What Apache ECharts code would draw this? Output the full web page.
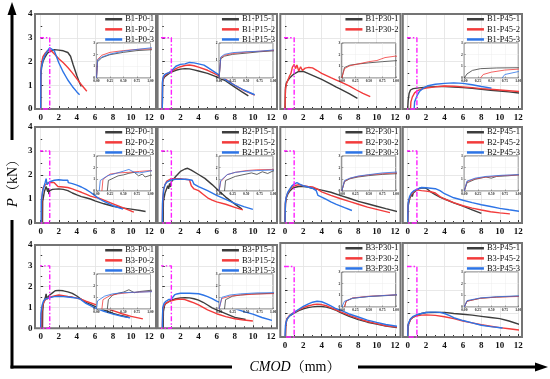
<!DOCTYPE html>
<html><head><meta charset="utf-8">
<script src="https://cdn.jsdelivr.net/npm/echarts@6/dist/echarts.min.js"></script>
<style>html,body{margin:0;padding:0;background:#fff}#c{width:550px;height:379px}</style>
</head><body><div id="c"></div>
<script>
// ---------- panel names / ticks ----------
const panelNames = ['B1-P0','B1-P15','B1-P30','B1-P45','B2-P0','B2-P15','B2-P30','B2-P45','B3-P0','B3-P15','B3-P30','B3-P45'];
const xTicks = [0, 12, 2];      // min, max, interval (mm)
const yTicks = [0, 4, 1];       // min, max, interval (kN)
const insetX = [0, 1, 0.25];
const insetYMax = [3,2,3,3, 3,3,3,3, 3,3,3,3];
const zoomBox = [[-0.45,0],[-0.45,3],[1,3],[1,0],[-0.45,0]];

// ---------- series data [CMOD mm, P kN] ----------
const B1_P0_1 = [[0,0],[0.02,1.4],[0.1,1.75],[0.25,2.0],[0.5,2.2],[0.75,2.35],[1,2.42],[1.5,2.5],[2,2.48],[2.5,2.45],[3,2.38],[3.3,2.22],[3.6,1.85],[4,1.4],[4.3,1.1],[4.5,0.95]];
const B1_P0_2 = [[0,0],[0.02,1.6],[0.1,1.95],[0.25,2.2],[0.5,2.35],[0.75,2.45],[1,2.5],[1.3,2.4],[1.6,2.28],[2,2.12],[2.5,1.95],[3,1.75],[3.5,1.52],[4,1.27],[4.5,1.02],[5.1,0.75]];
const B1_P0_3 = [[0,0],[0.02,1.55],[0.1,1.8],[0.25,2.05],[0.5,2.3],[0.75,2.45],[1,2.58],[1.2,2.62],[1.5,2.45],[2,1.95],[2.5,1.55],[3,1.22],[3.5,0.95],[4,0.72],[4.3,0.6]];

const B1_P15_1 = [[0,0],[0.03,1.1],[0.1,1.25],[0.25,1.35],[0.5,1.42],[0.75,1.5],[1,1.55],[1.5,1.63],[2,1.68],[2.5,1.7],[3,1.69],[3.5,1.65],[4,1.6],[5,1.5],[6,1.35],[7,1.18],[8,0.92],[8.8,0.72],[9.5,0.55]];
const B1_P15_2 = [[0,0],[0.03,1.15],[0.1,1.3],[0.25,1.4],[0.5,1.48],[0.75,1.53],[1,1.58],[1.5,1.7],[2,1.78],[2.5,1.83],[3,1.85],[3.5,1.82],[4,1.76],[5,1.63],[6,1.45],[7,1.25],[8,1.0],[9,0.78],[10.2,0.58]];
const B1_P15_3 = [[0,0],[0.03,1.2],[0.1,1.35],[0.25,1.45],[0.5,1.5],[0.75,1.53],[1,1.6],[1.5,1.8],[2,1.88],[2.5,1.9],[3,1.96],[3.5,1.94],[4,1.9],[4.6,1.85],[5,1.75],[6,1.5],[7,1.23],[8,1.0],[9,0.8],[10.2,0.6]];

const B1_P30_1 = [[0,0],[0.05,0.9],[0.15,1.1],[0.3,1.2],[0.5,1.3],[0.75,1.4],[1,1.48],[1.5,1.58],[2,1.58],[2.5,1.5],[3,1.42],[4,1.25],[5,1.05],[5.6,0.92],[6,0.85],[7,0.65],[7.9,0.45]];
const B1_P30_2 = [[0,0],[0.05,0.8],[0.15,1.05],[0.3,1.2],[0.5,1.4],[0.65,1.5],[0.8,1.75],[1,1.88],[1.15,1.7],[1.3,1.85],[1.5,1.6],[1.7,1.78],[1.9,1.62],[2.2,1.72],[2.6,1.75],[3,1.73],[3.5,1.62],[4,1.5],[5,1.32],[5.6,1.22],[6,1.15],[7,0.97],[7.8,0.8],[8.5,0.66],[9.3,0.52]];

const B1_P45_1 = [[0,0],[0.05,0.35],[0.15,0.65],[0.3,0.8],[0.6,0.86],[1,0.88],[2,0.92],[3,0.94],[4,0.95],[5,0.92],[6,0.9],[7,0.87],[8,0.83],[9,0.79],[10,0.76],[11,0.72],[12.4,0.66]];
const B1_P45_2 = [[0.3,0],[0.35,0.3],[0.5,0.5],[0.75,0.68],[1,0.76],[1.5,0.84],[2,0.88],[3,0.93],[4,0.97],[5,0.96],[6,0.93],[7,0.9],[8,0.86],[9,0.83],[10,0.8],[11,0.77],[12.4,0.73]];
const B1_P45_3 = [[0.7,0],[0.75,0.3],[1,0.55],[1.3,0.75],[1.7,0.88],[2.2,0.98],[3,1.04],[4,1.08],[5,1.1],[6,1.08],[7,1.02],[8,0.95],[9.1,0.88]];

const B2_P0_1 = [[0.2,0],[0.22,0.9],[0.4,1.3],[0.5,1.38],[0.6,1.52],[0.7,1.6],[0.78,1.3],[0.85,1.45],[0.9,1.2],[1,1.35],[1.3,1.4],[1.5,1.42],[2,1.42],[2.5,1.4],[3,1.35],[3.5,1.25],[4,1.17],[4.5,1.1],[5,1.05],[5.5,1.0],[6,0.92],[7,0.8],[8,0.7],[9,0.63],[10,0.58],[11,0.52],[11.6,0.48]];
const B2_P0_2 = [[0.1,0],[0.12,1.0],[0.25,1.45],[0.4,1.55],[0.6,1.6],[0.8,1.68],[1,1.75],[1.2,1.7],[1.5,1.68],[1.7,1.7],[1.9,1.52],[2.5,1.5],[3,1.48],[3.5,1.42],[4,1.35],[4.5,1.28],[5,1.2],[5.5,1.12],[6,1.07],[6.5,1.03],[7,0.95],[8,0.8],[9,0.65],[10.3,0.45]];
const B2_P0_3 = [[0.05,0],[0.07,0.9],[0.2,1.3],[0.35,1.5],[0.5,1.7],[0.6,1.85],[0.7,1.6],[0.8,1.55],[1,1.72],[1.5,1.78],[2,1.8],[2.5,1.78],[3,1.78],[3.05,1.68],[3.5,1.64],[4,1.58],[4.5,1.5],[5,1.4],[5.5,1.28],[6,1.14],[6.5,1.0],[7,0.9],[8,0.72],[9.1,0.58]];

const B2_P15_1 = [[0.1,0],[0.12,0.9],[0.3,1.25],[0.5,1.45],[0.6,1.55],[0.7,1.42],[0.8,1.65],[0.9,1.5],[1,1.72],[1.2,1.78],[1.5,1.95],[2,2.15],[2.5,2.25],[2.8,2.28],[3.2,2.2],[4,2.02],[4.7,1.86],[5.5,1.6],[6.2,1.35],[7,1.08],[7.8,0.85],[8.8,0.58]];
const B2_P15_2 = [[0,0],[0.03,0.8],[0.15,1.4],[0.3,1.6],[0.5,1.75],[0.7,1.82],[1,1.85],[1.5,1.85],[2,1.85],[2.5,1.82],[3,1.8],[3.2,1.55],[3.5,1.42],[4,1.35],[4.5,1.2],[5,1.05],[5.5,0.95],[6,0.88],[7,0.78],[8,0.65],[8.9,0.55]];
const B2_P15_3 = [[0,0],[0.03,0.9],[0.15,1.4],[0.3,1.6],[0.5,1.7],[0.7,1.75],[1,1.8],[1.5,1.82],[2,1.83],[2.5,1.82],[3,1.8],[3.3,1.78],[3.5,1.62],[4,1.52],[5,1.35],[6,1.15],[7,0.98],[8,0.82],[9,0.68],[10,0.57]];

const B2_P30_1 = [[0,0],[0.05,0.8],[0.15,1.05],[0.3,1.2],[0.5,1.32],[0.75,1.42],[1,1.48],[1.5,1.52],[2,1.52],[2.5,1.5],[3,1.45],[4,1.37],[5,1.28],[6,1.15],[7,1.03],[8,0.9],[9,0.8],[10,0.7],[11,0.6],[12.35,0.47]];
const B2_P30_2 = [[0,0],[0.05,0.85],[0.15,1.08],[0.3,1.25],[0.5,1.38],[0.75,1.48],[1,1.55],[1.5,1.6],[2,1.55],[2.5,1.52],[3,1.5],[3.5,1.42],[4,1.3],[5,1.15],[6,1.02],[7,0.9],[8,0.78],[9,0.66],[10,0.57],[11.45,0.43]];
const B2_P30_3 = [[0,0],[0.05,0.9],[0.15,1.1],[0.3,1.28],[0.5,1.4],[0.75,1.55],[1,1.62],[1.3,1.68],[1.6,1.62],[2,1.55],[2.5,1.5],[3,1.45],[3.4,1.35],[3.6,1.15],[4,1.08],[4.5,0.98],[5,0.88],[5.6,0.78],[6.5,0.64],[7.3,0.52]];

const B2_P45_1 = [[0,0],[0.05,0.7],[0.2,1.0],[0.4,1.2],[0.5,1.1],[0.6,1.25],[0.8,1.3],[1,1.38],[1.3,1.45],[1.7,1.47],[2,1.45],[2.5,1.3],[3,1.18],[3.5,1.08],[4,1.0],[5,0.84],[6,0.7],[7,0.55],[8,0.4]];
const B2_P45_2 = [[0,0],[0.05,0.8],[0.2,1.05],[0.4,1.2],[0.7,1.32],[1,1.38],[1.5,1.35],[2,1.33],[2.5,1.3],[3,1.25],[3.5,1.1],[4,1.0],[5,0.85],[6,0.72],[7,0.62],[8,0.54],[9,0.47],[10,0.42],[11.1,0.38]];
const B2_P45_3 = [[0,0],[0.05,0.85],[0.2,1.1],[0.4,1.25],[0.7,1.35],[1,1.4],[1.5,1.48],[2,1.47],[2.5,1.45],[3,1.43],[3.5,1.35],[4,1.22],[5,1.05],[6,0.95],[7,0.85],[8,0.76],[9,0.69],[10,0.61],[11,0.55],[12.4,0.47]];

const B3_P0_1 = [[0.2,0],[0.22,0.8],[0.3,1.2],[0.4,1.35],[0.5,1.45],[0.6,1.65],[0.7,1.4],[0.8,1.5],[1,1.6],[1.3,1.7],[1.6,1.8],[2,1.82],[2.5,1.8],[3,1.75],[3.5,1.68],[4,1.55],[4.3,1.45],[5,1.25],[6,1.05],[7,0.88],[8,0.72],[9,0.6],[9.8,0.52]];
const B3_P0_2 = [[0.1,0],[0.12,0.8],[0.25,1.15],[0.4,1.3],[0.6,1.4],[0.8,1.45],[1,1.5],[1.5,1.55],[2,1.6],[2.5,1.57],[3,1.53],[3.5,1.5],[4,1.45],[4.3,1.42],[5,1.3],[6,1.15],[7,1.0],[8,0.85],[9,0.7],[10,0.57],[11.3,0.45]];
const B3_P0_3 = [[0,0],[0.02,0.7],[0.15,1.1],[0.3,1.3],[0.5,1.4],[0.8,1.45],[1,1.48],[1.5,1.52],[2,1.53],[2.5,1.52],[3,1.5],[3.5,1.48],[4,1.45],[4.3,1.42],[5,1.2],[6,0.98],[7,0.82],[8,0.68],[9,0.57],[9.9,0.5]];

const B3_P15_1 = [[0.1,0],[0.12,0.8],[0.25,1.1],[0.4,1.2],[0.6,1.28],[1,1.35],[1.5,1.42],[2,1.46],[2.5,1.47],[3,1.46],[3.5,1.42],[4,1.35],[4.5,1.25],[5,1.12],[5.5,0.98],[6,0.88],[7,0.7],[8,0.52],[9.2,0.42]];
const B3_P15_2 = [[0,0],[0.05,0.9],[0.2,1.1],[0.4,1.2],[0.7,1.28],[1,1.32],[1.5,1.38],[2,1.4],[2.5,1.38],[3,1.3],[3.5,1.22],[4,1.12],[4.5,1.0],[5,0.88],[6,0.7],[7,0.56],[8,0.46],[9,0.4],[10,0.35]];
const B3_P15_3 = [[0,0],[0.05,1.0],[0.2,1.2],[0.4,1.3],[0.7,1.38],[1,1.4],[1.2,1.45],[1.35,1.6],[1.6,1.65],[2,1.68],[3,1.68],[4,1.66],[4.5,1.6],[5,1.52],[5.5,1.42],[6,1.3],[7,1.12],[8,0.95],[9,0.8],[10,0.68],[11,0.52],[12.1,0.38]];

const B3_P30_1 = [[0.05,0],[0.08,0.5],[0.2,0.75],[0.5,0.9],[1,1.02],[1.5,1.12],[2,1.2],[2.5,1.25],[3,1.28],[3.5,1.3],[4,1.3],[4.5,1.27],[5,1.22],[5.5,1.15],[6,1.05],[7,0.88],[8,0.74],[9,0.63],[10,0.55],[11,0.47],[12.35,0.39]];
const B3_P30_2 = [[0.05,0],[0.08,0.5],[0.2,0.78],[0.5,0.92],[1,1.05],[1.5,1.15],[2,1.25],[2.5,1.32],[3,1.37],[3.5,1.4],[4,1.38],[4.5,1.33],[5,1.25],[5.5,1.17],[6,1.08],[7,0.92],[8,0.78],[9,0.66],[10,0.57],[11,0.48],[12.4,0.41]];
const B3_P30_3 = [[0,0],[0.05,0.5],[0.2,0.75],[0.5,0.9],[1,1.05],[1.5,1.18],[2,1.3],[2.5,1.4],[3,1.48],[3.5,1.52],[4,1.5],[4.5,1.42],[5,1.32],[5.5,1.22],[6,1.15],[7,0.98],[8,0.85],[9,0.72],[10,0.62],[11,0.53],[12.4,0.45]];

const B3_P45_1 = [[0,0],[0.05,0.5],[0.3,0.75],[0.6,0.85],[1,0.93],[1.5,1.0],[2,1.04],[3,1.05],[4,1.05],[5,1.0],[6,0.97],[7,0.93],[8,0.88],[9,0.83],[10,0.78],[11,0.68],[12.4,0.5]];
const B3_P45_2 = [[0,0],[0.05,0.5],[0.3,0.75],[0.6,0.85],[1,0.9],[1.5,0.93],[2,0.94],[3,0.92],[4,0.86],[5,0.78],[6,0.68],[7,0.6],[8,0.52],[9,0.46],[10,0.4],[11,0.35],[12.4,0.28]];
const B3_P45_3 = [[0,0],[0.05,0.55],[0.3,0.78],[0.6,0.88],[1,0.95],[1.5,1.0],[2,1.04],[2.5,1.06],[3,1.06],[3.5,1.05],[4,1.0],[4.5,0.92],[5,0.82],[6,0.7],[7,0.6],[8,0.5],[9,0.44],[10.3,0.38]];

const panelData = [
  [B1_P0_1,B1_P0_2,B1_P0_3],[B1_P15_1,B1_P15_2,B1_P15_3],[B1_P30_1,B1_P30_2],[B1_P45_1,B1_P45_2,B1_P45_3],
  [B2_P0_1,B2_P0_2,B2_P0_3],[B2_P15_1,B2_P15_2,B2_P15_3],[B2_P30_1,B2_P30_2,B2_P30_3],[B2_P45_1,B2_P45_2,B2_P45_3],
  [B3_P0_1,B3_P0_2,B3_P0_3],[B3_P15_1,B3_P15_2,B3_P15_3],[B3_P30_1,B3_P30_2,B3_P30_3],[B3_P45_1,B3_P45_2,B3_P45_3]
];
const seriesColors = ['#3d3d3d','#f23b3b','#2d74e6'];

// ---------- layout (pixels) ----------
const colX0 = [40.7, 162.3, 285, 407.7];      // x of CMOD = 0
const colW12 = [108.5, 108.7, 110, 110.5];     // width of 0..12
const frameL = [35, 157.6, 280.3, 402.8];
const frameR = [156, 277, 400.5, 522];
const rowTop = [[14,14,14,14],[127,127,127,127],[245,245,243,243]];
const rowZero = [[109,109,109,109],[223,223,223,223],[328.3,328.3,337,337]];

const FONT = "'Liberation Serif','Times New Roman','Noto Serif CJK SC','Noto Sans CJK SC',serif";

const grids=[], xAxes=[], yAxes=[], series=[], legends=[], graphics=[];
function headPart(arr){ const out=[]; for(const p of arr){ out.push(p); if(p[0]>insetX[1]) break; } return out; }

let gi = 0;
for (let r=0;r<3;r++) for (let c=0;c<4;c++) {
  const k = r*4+c, pname = panelNames[k];
  const top = rowTop[r][c], zero = rowZero[r][c];
  // main grid
  grids.push({left: colX0[c], top: top, width: colW12[c], height: zero-top});
  xAxes.push({gridIndex: gi, type:'value', min:xTicks[0], max:xTicks[1], interval:xTicks[2],
    axisLine:{show:false}, axisTick:{show:true, inside:true, length:3, lineStyle:{color:'#333', width:1}},
    minorTick:{show:true, splitNumber:2, length:2, lineStyle:{color:'#333'}},
    axisLabel:{fontFamily:FONT, fontWeight:'bold', fontSize:9, color:'#111', margin:4},
    splitLine:{show:true, lineStyle:{color:'#e2e2e2', width:0.8}}});
  yAxes.push({gridIndex: gi, type:'value', min:yTicks[0], max:yTicks[1], interval:yTicks[2], offset: colX0[c]-frameL[c],
    axisLine:{show:false}, axisTick:{show:true, inside:true, length:2.5, lineStyle:{color:'#333'}},
    minorTick:{show:true, splitNumber:2, length:1.5, lineStyle:{color:'#333'}},
    axisLabel:{show: c===0, fontFamily:FONT, fontWeight:'bold', fontSize:9, color:'#111', margin:2.5},
    splitLine:{show:true, lineStyle:{color:'#e2e2e2', width:0.8}}});
  const names = [];
  panelData[k].forEach((d, j) => {
    const nm = pname + '-' + (j+1); names.push(nm);
    series.push({type:'line', name:nm, xAxisIndex:gi, yAxisIndex:gi, data:d, symbol:'none', showSymbol:false, clip:false,
      lineStyle:{width:1.4, color:seriesColors[j]}, itemStyle:{color:seriesColors[j]}, z:2, silent:true});
  });
  series.push({type:'line', xAxisIndex:gi, yAxisIndex:gi, data:zoomBox, symbol:'none', clip:false, z:25, silent:true,
    lineStyle:{color:'#ff1dff', width:1.4, type:[5,2,1.5,2]}});
  legends.push({data:names, orient:'vertical', align:'left', right: 550-(frameR[c]-2), top: top+1,
    itemWidth:17, itemHeight:2.5, itemGap:1.6, icon:'rect', padding:0, selectedMode:false,
    textStyle:{fontFamily:FONT, fontSize:8.5, color:'#111', padding:[0,0,0,-2]}});
  graphics.push({type:'rect', z:20, silent:true, shape:{x:frameL[c], y:top, width:frameR[c]-frameL[c], height:zero-top},
    style:{fill:'none', stroke:'#747474', lineWidth:2}});
  gi++;
  // inset grid
  grids.push({left: frameL[c]+61.5, top: top+29, width:54, height:35, show:true, backgroundColor:'#fff', borderColor:'#444', borderWidth:0.8, z:5});
  xAxes.push({gridIndex: gi, type:'value', min:insetX[0], max:insetX[1], interval:insetX[2], z:6,
    axisLine:{show:false}, axisTick:{show:true, inside:true, length:1.5, lineStyle:{color:'#444', width:0.5}},
    axisLabel:{fontFamily:FONT, fontWeight:'bold', fontSize:3.6, color:'#222', margin:1.5, formatter:v=>v.toFixed(2)},
    splitLine:{show:true, lineStyle:{color:'#ececec', width:0.5}}});
  yAxes.push({gridIndex: gi, type:'value', min:0, max:insetYMax[k], interval:1, z:6,
    axisLine:{show:false}, axisTick:{show:true, inside:true, length:1.5, lineStyle:{color:'#444', width:0.5}},
    axisLabel:{fontFamily:FONT, fontWeight:'bold', fontSize:3.6, color:'#222', margin:1.5},
    splitLine:{show:true, lineStyle:{color:'#ececec', width:0.5}}});
  panelData[k].forEach((d, j) => {
    series.push({type:'line', xAxisIndex:gi, yAxisIndex:gi, data:headPart(d), symbol:'none', clip:true, z:7, silent:true,
      lineStyle:{width:0.8, color:seriesColors[j]}});
  });
  gi++;
}

// big outer axes with arrows and labels
const AX = 12, AY = 367;
graphics.push(
  {type:'line', z:20, shape:{x1:AX,y1:AY+1.5,x2:AX,y2:220}, style:{stroke:'#000', lineWidth:3}},
  {type:'line', z:20, shape:{x1:AX,y1:140,x2:AX,y2:14}, style:{stroke:'#000', lineWidth:3}},
  {type:'polygon', z:20, shape:{points:[[AX,2],[AX-4.5,15],[AX+4.5,15]]}, style:{fill:'#000'}},
  {type:'line', z:20, shape:{x1:AX-1.5,y1:AY,x2:232,y2:AY}, style:{stroke:'#000', lineWidth:3}},
  {type:'line', z:20, shape:{x1:358,y1:AY,x2:536,y2:AY}, style:{stroke:'#000', lineWidth:3}},
  {type:'polygon', z:20, shape:{points:[[548,AY],[535,AY-4.5],[535,AY+4.5]]}, style:{fill:'#000'}},
  {type:'text', z:20, x:AX+1, y:180, rotation:Math.PI/2,
    style:{text:'{i|P}{n|（kN）}', align:'center', verticalAlign:'middle', textAlign:'center', textVerticalAlign:'middle',
      rich:{i:{fontFamily:FONT, fontStyle:'italic', fontSize:15, fill:'#000'}, n:{fontFamily:FONT, fontSize:14, fill:'#000'}}}},
  {type:'text', z:20, x:295, y:AY, 
    style:{text:'{i|CMOD}{n|（mm）}', align:'center', verticalAlign:'middle', textAlign:'center', textVerticalAlign:'middle',
      rich:{i:{fontFamily:FONT, fontStyle:'italic', fontSize:14, fill:'#000'}, n:{fontFamily:FONT, fontSize:14, fill:'#000'}}}}
);

const chart = echarts.init(document.getElementById('c'), null, {renderer:'canvas'});
chart.setOption({
  animation:false, backgroundColor:'#fff',
  grid:grids, xAxis:xAxes, yAxis:yAxes, series:series, legend:legends, graphic:graphics
});
</script></body></html>
